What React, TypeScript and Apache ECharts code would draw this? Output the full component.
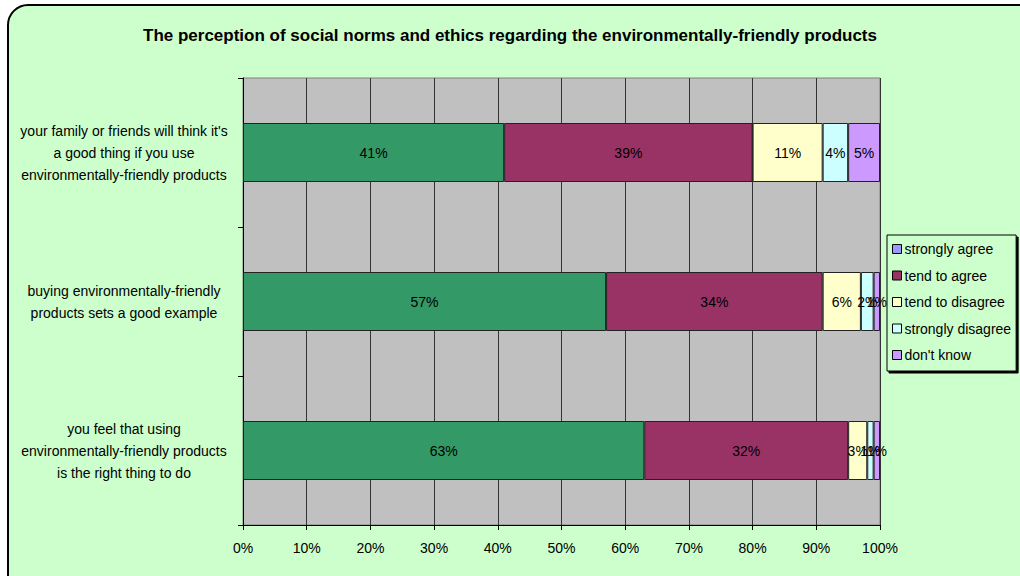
import React, { useEffect, useRef } from "react";
import * as echarts from "echarts";

const categories = [
  "you feel that using\nenvironmentally-friendly products\nis the right thing to do",
  "buying environmentally-friendly\nproducts sets a good example",
  "your family or friends will think it's\na good thing if you use\nenvironmentally-friendly products",
];
const seriesNames = ["strongly agree", "tend to agree", "tend to disagree", "strongly disagree", "don't know"];
const stronglyAgree = [63, 57, 41];
const tendToAgree = [32, 34, 39];
const tendToDisagree = [3, 6, 11];
const stronglyDisagree = [1, 2, 4];
const dontKnow = [1, 1, 5];
const seriesValues = [stronglyAgree, tendToAgree, tendToDisagree, stronglyDisagree, dontKnow];
const barColors = ["#339966", "#993366", "#FFFFCC", "#CCFFFF", "#CC99FF"];
const legendColors = ["#9999FF", "#993366", "#FFFFCC", "#CCFFFF", "#CC99FF"];
const titleText = "The perception of social norms and ethics regarding the environmentally-friendly products";

const FONT = 'Arial, "Liberation Sans", sans-serif';

export default function App() {
  const ref = useRef<HTMLDivElement>(null);
  useEffect(() => {
    if (!ref.current) return;
    const chart = echarts.init(ref.current, undefined, { renderer: "svg" });
    chart.setOption({
      animation: false,
      backgroundColor: "#ffffff",
      graphic: [
        {
          type: "rect",
          z: -10,
          silent: true,
          shape: { x: 8, y: 5, width: 1030, height: 590, r: 20 },
          style: { fill: "#CCFFCC", stroke: "#000", lineWidth: 2 },
        },
      ],
      title: {
        text: titleText,
        left: "center",
        top: 22,
        textStyle: { fontFamily: FONT, fontSize: 17, fontWeight: "bold", color: "#000" },
      },
      legend: {
        orient: "vertical",
        left: 887,
        top: 235,
        padding: [7, 5, 9, 5],
        itemGap: 12.5,
        itemWidth: 9,
        itemHeight: 9,
        icon: "rect",
        backgroundColor: "#CCFFCC",
        borderColor: "#000",
        borderWidth: 1,
        shadowColor: "#000",
        shadowOffsetX: 2,
        shadowOffsetY: 2,
        shadowBlur: 0,
        textStyle: { fontFamily: FONT, fontSize: 14, color: "#000", padding: [0, 0, 0, -2] },
        data: seriesNames.map((n, i) => ({
          name: n,
          itemStyle: { color: legendColors[i], borderColor: "#000", borderWidth: 1 },
        })),
      },
      grid: {
        left: 243,
        right: 140,
        top: 78,
        bottom: 51,
        show: true,
        backgroundColor: "#C0C0C0",
        borderColor: "#808080",
        borderWidth: 1,
      },
      xAxis: {
        type: "value",
        min: 0,
        max: 100,
        interval: 10,
        axisLine: { show: true, lineStyle: { color: "#000" } },
        axisTick: { show: true, length: 5, lineStyle: { color: "#000" } },
        axisLabel: { formatter: "{value}%", fontFamily: FONT, fontSize: 14, color: "#000", margin: 16 },
        splitLine: { show: true, lineStyle: { color: "#333", width: 1 } },
      },
      yAxis: {
        type: "category",
        data: categories,
        axisLine: { show: true, lineStyle: { color: "#000" } },
        axisTick: { show: true, length: 5, lineStyle: { color: "#000" } },
        axisLabel: {
          fontFamily: FONT,
          fontSize: 14,
          color: "#000",
          lineHeight: 22,
          align: "center",
          margin: 119,
        },
        splitLine: { show: false },
      },
      series: seriesNames.map((n, i) => ({
        name: n,
        type: "bar",
        stack: "total",
        barWidth: 59,
        data: seriesValues[i],
        itemStyle: { color: barColors[i], borderColor: "#222", borderWidth: 1 },
        label: {
          show: true,
          position: "inside",
          formatter: "{c}%",
          fontFamily: FONT,
          fontSize: 14,
          color: "#000",
        },
      })),
    });
    return () => chart.dispose();
  }, []);
  return (
    <div
      ref={ref}
      style={{ position: "fixed", left: 0, top: 0, width: 1020, height: 576 }}
    />
  );
}
